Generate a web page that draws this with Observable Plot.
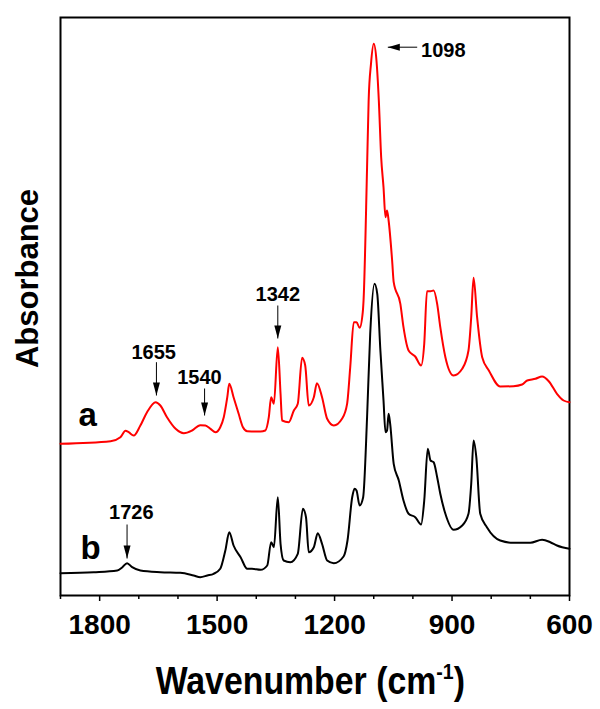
<!DOCTYPE html>
<html><head><meta charset="utf-8">
<script src="https://cdn.jsdelivr.net/npm/d3@7"></script>
<script src="https://cdn.jsdelivr.net/npm/@observablehq/plot@0.6"></script>
<style>body{margin:0;background:#fff}</style>
</head><body><div id="chart"></div>
<script>
// Spectrum a (red): [wavenumber, absorbance (arb.)]
const spectrumA = [[1900,151.7],[1772,154.3],[1747,158.3],[1734,164.7],[1726,163.3],[1713,160],[1696,170],[1679,183.3],[1657,193.3],[1645,190],[1628,178.3],[1606,166.7],[1585,162.3],[1564,165],[1543,170.3],[1530,170],[1517,166.7],[1504,163.3],[1492,168.3],[1483,178.3],[1474,198.3],[1469,211.7],[1458,198.3],[1445,181.7],[1434,168.3],[1423,164.3],[1389,164],[1377,165],[1368,178.3],[1362,198.3],[1355,191.7],[1345,248.3],[1338,201.7],[1334,175],[1317,173.3],[1304,185],[1294,191.7],[1283,237.7],[1275,230],[1266,190],[1253,198.3],[1245,212.3],[1232,198.3],[1219,176.7],[1202,170],[1181,176.7],[1168,191.7],[1160,228.3],[1151,273.3],[1144,273.3],[1136,267.7],[1128,283.3],[1126,295],[1117,428.3],[1113,495],[1107,531.7],[1100,551.7],[1093,535],[1087,495],[1081,438.3],[1075,408.3],[1070,378.3],[1066,385],[1062,375],[1053,335],[1049,313.3],[1032,291.7],[1024,268.3],[1011,245],[994,239],[979,230],[971,251.7],[964,304.3],[955,304.3],[947,305],[938,291.7],[930,268.3],[917,238.3],[896,220],[874,226.7],[858,245],[851,278.3],[845,317.7],[836,278.3],[823,238.3],[806,225],[777,209],[743,209.3],[721,211],[708,215],[687,216.7],[670,219],[653,214.3],[632,201.7],[615,195],[600,193.3]];
// Spectrum b (black)
const spectrumB = [[1900,22.3],[1815,23.3],[1755,25],[1742,28.3],[1730,32.3],[1717,28.3],[1696,25],[1645,23.3],[1594,22.7],[1560,20],[1543,18.3],[1525,20],[1509,21.7],[1492,26.7],[1479,45],[1469,63.3],[1458,50],[1440,38.3],[1423,26.7],[1411,26.7],[1389,25.7],[1372,30],[1362,53.3],[1355,48.3],[1345,98.3],[1338,51.7],[1330,35],[1313,33.3],[1294,41.7],[1281,86.7],[1273,78.3],[1266,43.3],[1253,48.3],[1243,62.3],[1232,51.7],[1219,35],[1202,32.3],[1177,39],[1167,55],[1155,98.3],[1149,106.7],[1144,105],[1136,90],[1127,98.3],[1117,178.3],[1109,261.7],[1098,311.7],[1091,301.7],[1083,245],[1075,195],[1070,163.3],[1066,165],[1062,181.7],[1058,171.7],[1049,131.7],[1036,115],[1024,95],[1011,81.7],[994,78.3],[979,71],[971,95],[962,146.7],[955,135],[947,133.3],[938,118.3],[930,101.7],[917,81.7],[896,65.7],[874,70],[858,81.7],[851,111.7],[845,155],[838,138.3],[828,81.7],[811,68.3],[777,55],[743,52.7],[700,52.7],[670,55.7],[649,53.3],[632,50],[600,46.7]];

const xTicksMajor = [1800, 1500, 1200, 900, 600];
const xTicksMinor = [1900, 1700, 1600, 1400, 1300, 1100, 1000, 800, 700];

// Peak annotations (vertical arrows)
const peakText  = ["1655", "1540", "1342", "1726"];
const peakTextX = [1662, 1545, 1345, 1719];
const peakTextY = [237, 211.7, 295, 77];
const arrowX    = [1655, 1532, 1345, 1730];
const arrowTop  = [233.3, 207, 290, 71];
const arrowTip  = [200, 180, 257, 37];

// 1098 annotation (horizontal arrow)
const mainPeakText = ["1098"];
const mainPeakTextX = [979];
const mainPeakTextY = [538.3];
const mainArrowFrom = [989];
const mainArrowTip = [1064];
const mainArrowY = [548.3];

// Series labels
const seriesNames = ["a", "b"];
const seriesLabelX = [1854, 1849];
const seriesLabelY = [170, 37];

const peaks = peakText.map((t, i) => ({t, tx: peakTextX[i], ty: peakTextY[i], ax: arrowX[i], a1: arrowTop[i], a2: arrowTip[i]}));
const mainPeak = mainPeakText.map((t, i) => ({t, tx: mainPeakTextX[i], ty: mainPeakTextY[i], x1: mainArrowFrom[i], x2: mainArrowTip[i], y: mainArrowY[i]}));
const series = seriesNames.map((t, i) => ({t, x: seriesLabelX[i], y: seriesLabelY[i]}));

const FONT = "'Liberation Sans', Arial, Helvetica, sans-serif";

const plot = Plot.plot({
  width: 600, height: 709,
  marginTop: 17, marginRight: 31, marginBottom: 114, marginLeft: 60,
  style: {fontFamily: FONT, background: "white", color: "black", overflow: "visible"},
  x: {domain: [1900, 600], axis: null, label: null},
  y: {domain: [0, 578], axis: null, label: null},
  marks: [
    Plot.ruleX(xTicksMinor, {x: d => d, y1: 0, y2: -4, stroke: "black", strokeWidth: 1.5}),
    Plot.axisX(xTicksMajor, {anchor: "bottom", tickSize: 6, tickPadding: 13, strokeWidth: 1.5, tickFormat: d3.format("d"), fontSize: 28, fontWeight: "bold", label: null, ariaLabel: "x-axis"}),
    Plot.frame({stroke: "black", strokeWidth: 2}),
    Plot.line(spectrumB, {x: d => d[0], y: d => d[1], stroke: "black", strokeWidth: 2, curve: "monotone-x"}),
    Plot.line(spectrumA, {x: d => d[0], y: d => d[1], stroke: "#ff0000", strokeWidth: 2, curve: "monotone-x"}),
    // vertical arrows
    Plot.link(peaks, {x1: "ax", x2: "ax", y1: "a1", y2: "a2", stroke: "black", strokeWidth: 1}),
    Plot.vector(peaks, {x: "ax", y: "a2", length: 13, rotate: 180, shape: "spike", r: 3.5, anchor: "end", fill: "black", stroke: "none"}),
    Plot.text(peaks, {x: "tx", y: "ty", text: "t", fontSize: 20, fontWeight: "bold", textAnchor: "middle", lineAnchor: "bottom", fill: "black"}),
    // horizontal arrow for 1098
    Plot.link(mainPeak, {x1: "x1", x2: "x2", y1: "y", y2: "y", stroke: "black", strokeWidth: 1}),
    Plot.vector(mainPeak, {x: "x2", y: "y", length: 12, rotate: -90, shape: "spike", r: 3.5, anchor: "end", fill: "black", stroke: "none"}),
    Plot.text(mainPeak, {x: "tx", y: "ty", text: "t", fontSize: 20, fontWeight: "bold", textAnchor: "start", lineAnchor: "bottom", fill: "black"}),
    // series labels
    Plot.text(series, {x: "x", y: "y", text: "t", fontSize: 33, fontWeight: "bold", textAnchor: "start", lineAnchor: "bottom", fill: "black"}),
    // axis titles
    Plot.text(["Absorbance"], {frameAnchor: "left", y: 317, dx: -32, rotate: -90, text: d => d, fontSize: 31, fontWeight: "bold", textAnchor: "middle", lineAnchor: "middle", fill: "black"}),
    Plot.text(["Wavenumber (cm-1)"], {x: 1262, frameAnchor: "bottom", dy: 98, text: d => d, fontSize: 38, fontWeight: "bold", textAnchor: "middle", lineAnchor: "bottom", fill: "black", ariaLabel: "x-title"})
  ]
});

// slightly condensed glyphs, as in the original figure
function squeeze(el, s) {
  const tr = el.getAttribute("transform");
  if (tr && tr.startsWith("translate")) el.setAttribute("transform", tr + ` scale(${s},1)`);
}
d3.select(plot).selectAll('g[aria-label="x-axis"] text').each(function() { squeeze(this, 0.9); });

// superscript for cm-1
d3.select(plot).selectAll("text").filter(function() { return this.textContent === "Wavenumber (cm-1)"; }).each(function() {
  const t = d3.select(this);
  t.text(null);
  t.append("tspan").text("Wavenumber (cm");
  t.append("tspan").attr("dy", -15).attr("font-size", 22).text("-1");
  t.append("tspan").attr("dy", 15).text(")");
  squeeze(this, 0.89);
});

document.getElementById("chart").appendChild(plot);
</script>
</body></html>
